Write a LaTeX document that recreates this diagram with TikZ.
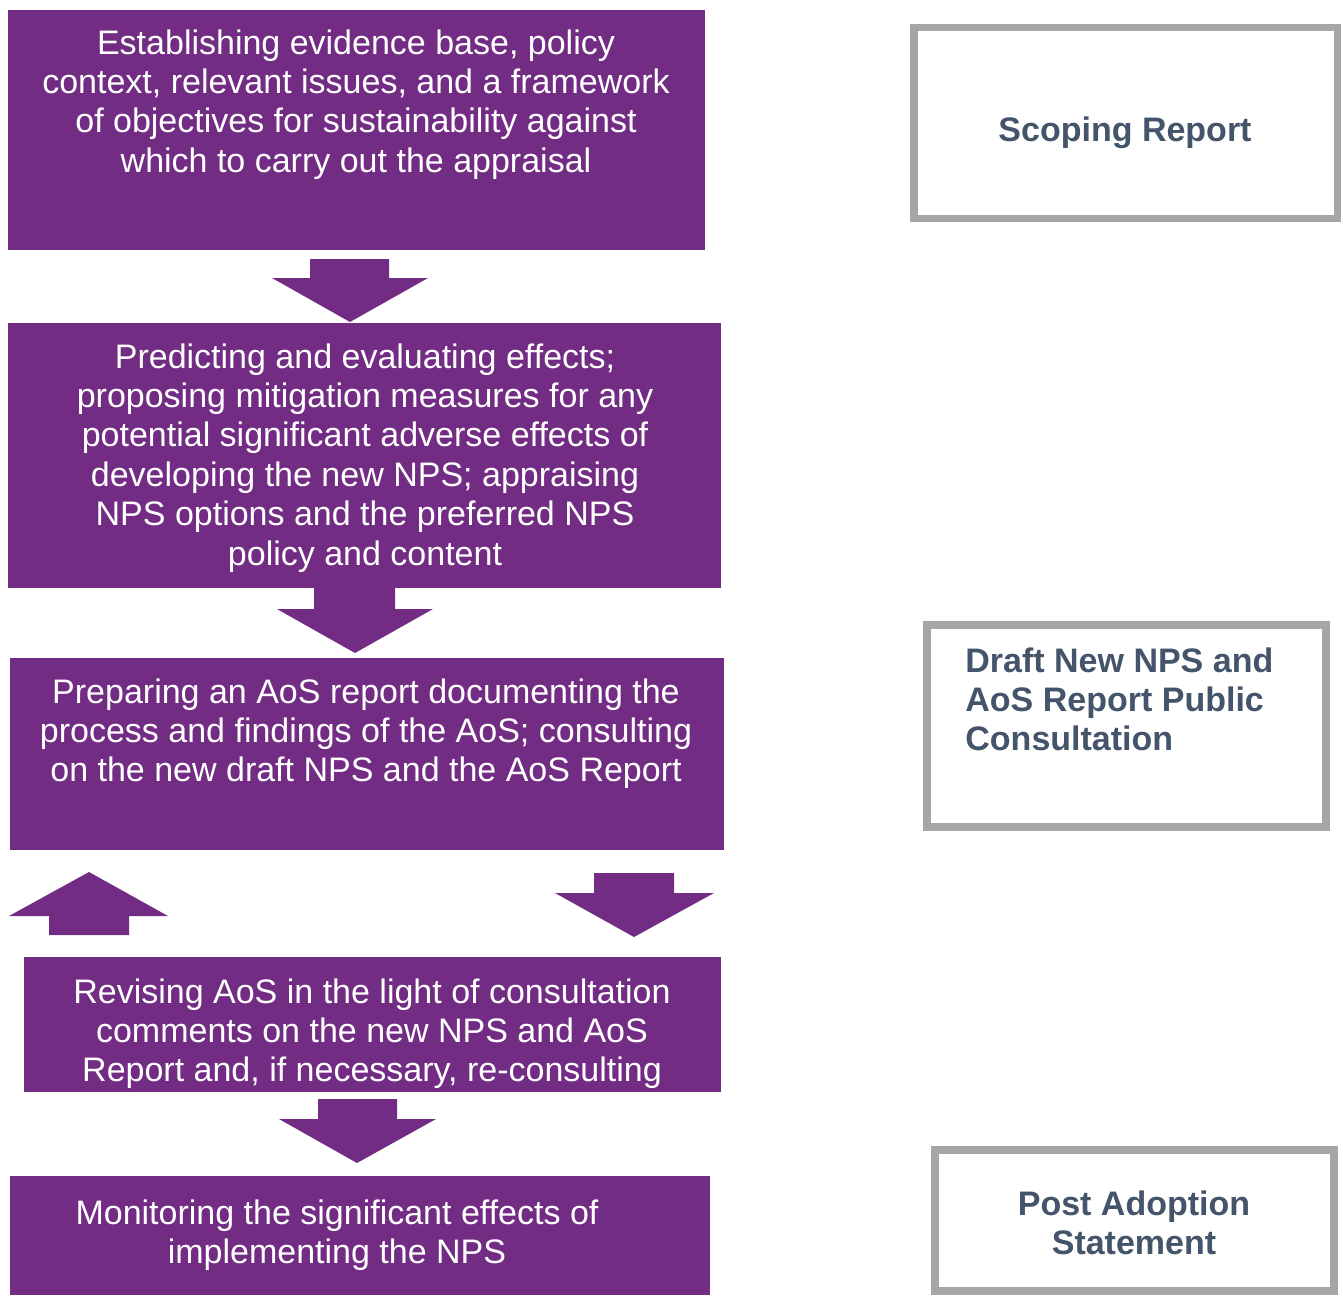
\documentclass[tikz,border=0pt]{standalone}
\usepackage{fontspec}
\setmainfont{Liberation Sans}
\definecolor{pur}{HTML}{722C83}
\definecolor{slate}{HTML}{44546A}
\definecolor{gbord}{HTML}{A6A6A6}
\begin{document}
\begin{tikzpicture}[x=0.5pt,y=-0.5pt,
 pbox/.style={fill=pur, draw=none, anchor=north west, inner sep=0},
 wtext/.style={text=white, align=center, anchor=north, inner sep=0, font=\fontsize{17}{19.7}\selectfont},
 gbox/.style={draw=gbord, line width=3.75pt, fill=white, inner sep=0},
 btext/.style={text=slate, inner sep=0, font=\bfseries\fontsize{17}{19.5}\selectfont},
 blk/.style={fill=pur, draw=none}]
\useasboundingbox (0,0) rectangle (1343,1295);

% purple boxes
\node[pbox, minimum width=348.5pt, minimum height=120pt] (b1) at (8,10) {};
\node[pbox, minimum width=356.5pt, minimum height=132.5pt] (b2) at (8,323) {};
\node[pbox, minimum width=357pt, minimum height=96pt] (b3) at (10,658) {};
\node[pbox, minimum width=348.5pt, minimum height=67.5pt] (b4) at (24,957) {};
\node[pbox, minimum width=350pt, minimum height=59.5pt] (b5) at (10,1176) {};

\node[wtext] (t1) at (356,29) {Establishing evidence base, policy\\context, relevant issues, and a framework\\of objectives for sustainability against\\which to carry out the appraisal};
\node[wtext] (t2) at (365,343) {Predicting and evaluating effects;\\proposing mitigation measures for any\\potential significant adverse effects of\\developing the new NPS; appraising\\NPS options and the preferred NPS\\policy and content};
\node[wtext] (t3) at (366,678) {Preparing an AoS report documenting the\\process and findings of the AoS; consulting\\on the new draft NPS and the AoS Report};
\node[wtext] (t4) at (372,978) {Revising AoS in the light of consultation\\comments on the new NPS and AoS\\Report and, if necessary, re-consulting};
\node[wtext] (t5) at (337,1199) {Monitoring the significant effects of\\implementing the NPS};

% block arrows
\fill[blk] (310,259) -- (389,259) -- (389,278) -- (428,278) -- (350,322) -- (272,278) -- (310,278) -- cycle;
\fill[blk] (314,588) -- (395,588) -- (395,609) -- (433,609) -- (355,653) -- (277,609) -- (314,609) -- cycle;
\fill[blk] (49,935) -- (129,935) -- (129,916) -- (168,916) -- (89,872) -- (9,916) -- (49,916) -- cycle;
\fill[blk] (594,873) -- (674,873) -- (674,893) -- (714,893) -- (634,937) -- (555,893) -- (594,893) -- cycle;
\fill[blk] (318,1099) -- (397,1099) -- (397,1119) -- (436,1119) -- (357,1163) -- (279,1119) -- (318,1119) -- cycle;

% grey boxes
\node[gbox, minimum width=211.75pt, minimum height=95.25pt] (g1) at (1125.5,123) {};
\node[gbox, minimum width=199.5pt, minimum height=101pt] (g2) at (1126.5,726) {};
\node[gbox, minimum width=199.5pt, minimum height=70.5pt] (g3) at (1134.5,1220.5) {};

\node[btext, anchor=base] (s1) at (1125,141) {Scoping Report};
\node[btext, align=left, anchor=north west] (s2) at (965,647) {Draft New NPS and\\AoS Report Public\\Consultation};
\node[btext, align=center, anchor=north] (s3) at (1134,1190) {Post Adoption\\Statement};
\end{tikzpicture}
\end{document}
